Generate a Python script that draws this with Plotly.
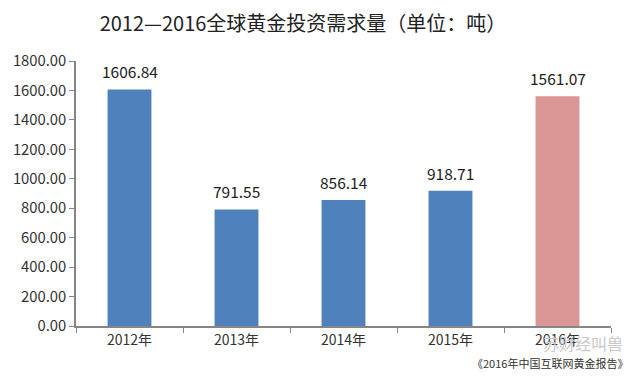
import plotly.graph_objects as go

years = ["2012年", "2013年", "2014年", "2015年", "2016年"]
demand = [1606.84, 791.55, 856.14, 918.71, 1561.07]
colors = ["#4F81BD", "#4F81BD", "#4F81BD", "#4F81BD", "#D99694"]
tick_values = [0, 200, 400, 600, 800, 1000, 1200, 1400, 1600, 1800]
title_text = "2012—2016全球黄金投资需求量（单位：吨）"
watermark = "苏财经叫兽"
source = "《2016年中国互联网黄金报告》"

# The page's body has an 8px margin, so the figure is sized and placed around it.
OFF = 8
W, H = 632 - OFF, 377 - OFF
L, R, T, B = 76 - OFF, 611 - OFF, 61 - OFF, 326 - OFF
FONT = "Noto Sans CJK SC"

fig = go.Figure(go.Bar(
    x=years, y=demand, marker=dict(color=colors, line_width=0), cliponaxis=False,
))
fig.update_layout(
    width=W, height=H, autosize=False,
    margin=dict(l=L, r=W - R, t=T, b=H - B, pad=0, autoexpand=False),
    paper_bgcolor="white", plot_bgcolor="white", bargap=0.59, showlegend=False,
    font=dict(family=FONT, color="#333333"),
    title=dict(text=title_text, x=(303 - OFF) / W, xanchor="center", y=1 - (24 - OFF) / H, yanchor="middle",
               font=dict(size=20, color="#222222", family=FONT)),
)
fig.update_xaxes(type="category", range=[-0.5, 4.5], automargin=False, showgrid=False, showline=True,
                 linecolor="#868686", linewidth=1.5,
                 ticks="outside", tickson="boundaries", ticklen=5, tickcolor="#868686", tickwidth=1,
                 tickfont=dict(size=14, color="#333333", family=FONT))
fig.update_yaxes(range=[0, 1800], automargin=False, tickmode="array", tickvals=tick_values,
                 ticktext=[f"{v:.2f}" for v in tick_values], showgrid=False, zeroline=False,
                 showline=True, linecolor="#868686", linewidth=1.5, ticks="outside", ticklen=5,
                 tickcolor="#868686", tickwidth=1,
                 tickfont=dict(size=14.8, color="#333333", family=FONT))
fig.add_annotation(text=watermark, xref="paper", yref="paper", x=(625 - L - OFF) / (R - L), y=-17 / (B - T),
                   xanchor="right", yanchor="middle", showarrow=False,
                   font=dict(size=16, color="#C8C8C8", family=FONT))
for year, value in zip(years, demand):
    fig.add_annotation(x=year, y=value, text=f"{value:.2f}", showarrow=False, yanchor="bottom", yshift=5,
                       font=dict(size=15.5, color="#222222", family=FONT))
fig.add_annotation(text=source, xref="paper", yref="paper", x=(630 - L - OFF) / (R - L), y=-37 / (B - T),
                   xanchor="right", yanchor="middle", showarrow=False,
                   font=dict(size=11, color="#333333", family=FONT))
fig.write_html("out.html")
